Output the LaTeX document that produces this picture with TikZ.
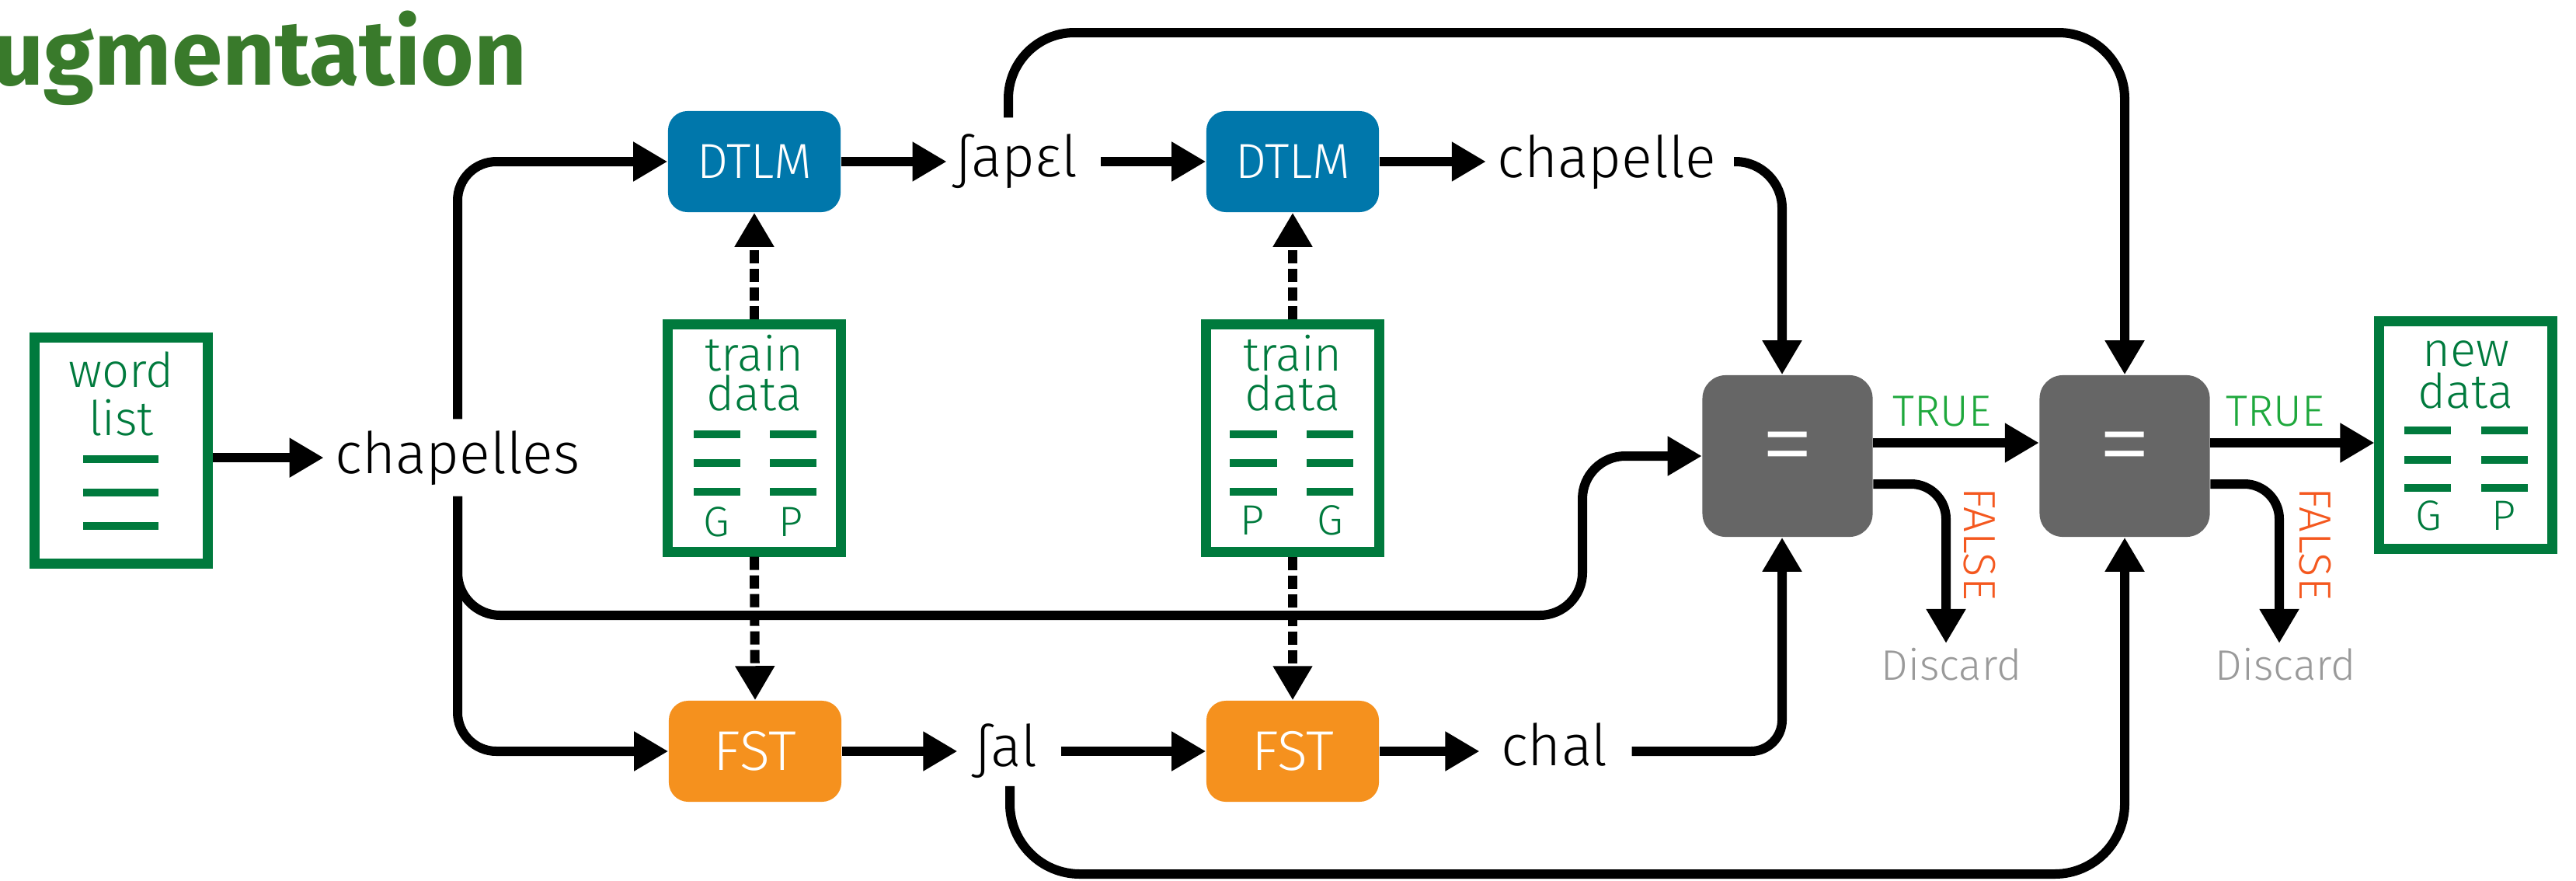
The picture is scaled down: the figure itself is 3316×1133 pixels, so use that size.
\documentclass[tikz,border=0pt]{standalone}
\usepackage{fontspec}
\setmainfont{Fira Sans}[UprightFont={* Light},BoldFont={* Bold}]
\usetikzlibrary{arrows.meta,calc}
\definecolor{boxgreen}{HTML}{007A3D}
\definecolor{titlegreen}{HTML}{397A2B}
\definecolor{dtlmblue}{HTML}{0077AB}
\definecolor{fstorange}{HTML}{F5911E}
\definecolor{eqgray}{HTML}{666666}
\definecolor{truegreen}{HTML}{1EA83C}
\definecolor{falsered}{HTML}{F4581F}
\definecolor{discardgray}{HTML}{9A9A9A}
\begin{document}
\begin{tikzpicture}[x=0.01cm,y=-0.01cm,
  arr/.style={line width=0.12cm,-{Triangle[length=0.44cm,width=0.48cm]}},
  dasharr/.style={arr,dash pattern=on 0.17cm off 0.07cm},
  databox/.style={draw=boxgreen,line width=0.13cm,minimum width=2.22cm,minimum height=2.91cm,inner sep=0},
  proc/.style={rounded corners=0.25cm,minimum width=2.22cm,minimum height=1.3cm,text=white,inner sep=0},
  eqbox/.style={fill=eqgray,rounded corners=0.3cm,minimum width=2.19cm,minimum height=2.08cm,text=white,inner sep=0,font=\fontsize{40}{46}\selectfont},
  word/.style={font=\fontsize{21}{25}\selectfont,inner sep=0.14cm,anchor=base},
  boxtext/.style={text=boxgreen,inner sep=0,anchor=base,align=center},
  gp/.style={text=boxgreen,font=\fontsize{15.5}{18}\selectfont,inner sep=0,anchor=base},
  dashline/.style={draw=boxgreen,line width=0.10cm},
  truelab/.style={text=truegreen,font=\fontsize{16}{19}\selectfont,inner sep=0,anchor=base},
  falselab/.style={text=falsered,font=\fontsize{16.5}{19}\selectfont,inner sep=0,rotate=-90},
  discard/.style={text=discardgray,font=\fontsize{15.6}{19}\selectfont,inner sep=0.05cm,anchor=base}
]
\useasboundingbox (0,0) rectangle (3316,1133);

% title
\node[anchor=base east,inner sep=0,text=titlegreen,font=\fontsize{33.5}{40}\selectfont\bfseries] (title) at (679,109) {Augmentation};

% word list
\node[databox] (wl) at (156,580) {};
\node[boxtext,font=\fontsize{17.5}{17.6}\selectfont] (wlt) at (156,560) {word\\list};
\foreach \yy in {591,634,677} \draw[dashline] (107,\yy) -- (204,\yy);

% train data 1
\node[databox,minimum width=2.23cm,minimum height=2.92cm] (td1) at (971,564) {};
\node[boxtext,font=\fontsize{17.5}{14.5}\selectfont] (td1t) at (971,528) {train\\data};
\foreach \yy in {559,596,633} {\draw[dashline] (893,\yy) -- (953,\yy); \draw[dashline] (991,\yy) -- (1051,\yy);}
\node[gp] (td1g) at (922,690) {G};
\node[gp] (td1p) at (1018,690) {P};

% train data 2
\node[databox,minimum width=2.23cm,minimum height=2.92cm] (td2) at (1664,564) {};
\node[boxtext,font=\fontsize{17.5}{14.5}\selectfont] (td2t) at (1664,528) {train\\data};
\foreach \yy in {559,596,633} {\draw[dashline] (1583,\yy) -- (1644,\yy); \draw[dashline] (1682,\yy) -- (1742,\yy);}
\node[gp] (td2p) at (1612,688) {P};
\node[gp] (td2g) at (1712,688) {G};

% new data
\node[databox,minimum height=2.93cm] (nd) at (3174,560) {};
\node[boxtext,font=\fontsize{17.5}{15.1}\selectfont] (ndt) at (3174,525) {new\\data};
\foreach \yy in {554,592,628} {\draw[dashline] (3095,\yy) -- (3155,\yy); \draw[dashline] (3194,\yy) -- (3254,\yy);}
\node[gp] (ndg) at (3126,682) {G};
\node[gp] (ndp) at (3223,682) {P};

% process boxes
\node[proc,fill=dtlmblue,font=\fontsize{18}{21}\selectfont] (d1) at (971,208) {DTLM};
\node[proc,fill=dtlmblue,font=\fontsize{18}{21}\selectfont] (d2) at (1664,208) {DTLM};
\node[proc,fill=fstorange,font=\fontsize{20.5}{24}\selectfont] (f1) at (972,967) {FST};
\node[proc,fill=fstorange,font=\fontsize{20.5}{24}\selectfont] (f2) at (1664,967) {FST};
\node[eqbox] (eq1) at (2301,587) {=};
\node[eqbox] (eq2) at (2735,587) {=};

% words
\node[word] (ch) at (589,609) {chapelles};
\node[word,inner xsep=0.11cm,inner ysep=0.2cm] (ja) at (1309,227) {ʃapɛl};
\node[word] (cp) at (2068,228) {chapelle};
\node[word,inner xsep=0.22cm,inner ysep=0.1cm] (jal) at (1295,986) {ʃal};
\node[word,inner xsep=0.27cm,inner ysep=0.1cm] (chal) at (2001,985) {chal};

% labels
\node[truelab] (t1) at (2500,548) {TRUE};
\node[truelab] (t2) at (2929,548) {TRUE};
\node[falselab] (fl1) at (2548,700) {FALSE};
\node[falselab] (fl2) at (2980,700) {FALSE};
\node[discard] (dis1) at (2512,875) {Discard};
\node[discard] (dis2) at (2942,875) {Discard};

% helper coordinates
\coordinate (bend) at (2037,792);
\coordinate (toprow) at (0,42);
\coordinate (botrow) at (0,1125);
\coordinate (t1s) at ($(eq1.east)+(0,-17)$);
\coordinate (t2s) at ($(eq2.east)+(0,-17)$);
\coordinate (f1s) at ($(eq1.east)+(0,36)$);
\coordinate (f2s) at ($(eq2.east)+(0,36)$);

% dashed training arrows
\draw[dasharr] (td1.north) -- (d1.south);
\draw[dasharr] (td1.south) -- (f1.north);
\draw[dasharr] (td2.north) -- (d2.south);
\draw[dasharr] (td2.south) -- (f2.north);

% connectors
\draw[arr] (ch.west -| wl.east) -- (ch.west);
\draw[arr,rounded corners=0.5cm] (ch.north) |- (d1.west);
\draw[arr,rounded corners=0.5cm] (ch.south) |- (f1.west);
\draw[arr,rounded corners=0.55cm] (ch.south) |- (bend) |- (eq1.west);

\draw[arr] (d1.east) -- (d1.east -| ja.west);
\draw[arr,shorten <=0.18cm] (d1.east -| ja.east) -- (d2.west);
\draw[arr] (d2.east) -- (d2.east -| cp.west);
\draw[arr,rounded corners=0.6cm] ($(d2.east -| cp.east)+(9,0)$) -| ($(eq1.north)+(-7,0)$);

\draw[arr] (f1.east) -- (f1.east -| jal.west);
\draw[arr,shorten <=0.08cm] (f1.east -| jal.east) -- (f2.west);
\draw[arr] (f2.east) -- (f2.east -| chal.west);
\draw[arr,rounded corners=0.4cm] ($(f2.east -| chal.east)+(3,0)$) -| ($(eq1.south)+(-7,0)$);

\draw[arr,rounded corners=0.85cm] ($(ja.north)+(-11,0)$) |- (eq2.north |- toprow) -- (eq2.north);
\draw[arr,rounded corners=0.9cm] ($(jal.south)+(5,0)$) |- (eq2.south |- botrow) -- (eq2.south);

\draw[arr] (t1s) -- (t1s -| eq2.west);
\draw[arr] (t2s) -- (t2s -| nd.west);
\draw[arr,rounded corners=0.45cm] (f1s) -| ($(dis1.north)+(-7,0)$);
\draw[arr,rounded corners=0.45cm] (f2s) -| ($(dis2.north)+(-8,0)$);
\end{tikzpicture}
\end{document}
